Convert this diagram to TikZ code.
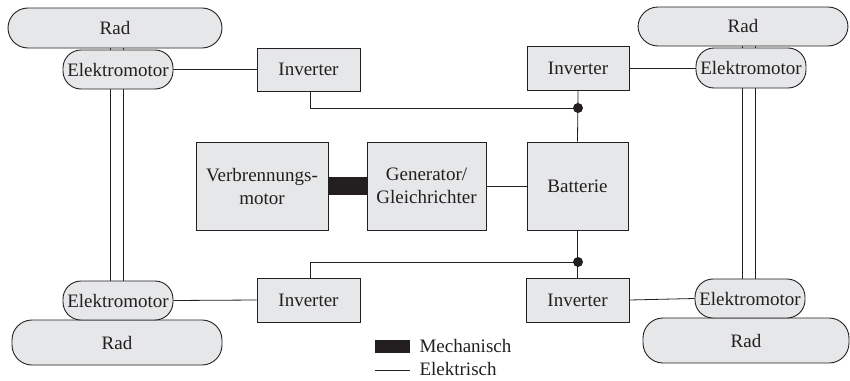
\documentclass[tikz,border=0pt]{standalone}
\usepackage{fontspec}
\setmainfont{Liberation Serif}
\usetikzlibrary{backgrounds}
\definecolor{boxfill}{HTML}{E6E7E8}
\definecolor{ink}{HTML}{231F20}
\begin{document}
\begin{tikzpicture}[x=1pt,y=-1pt,
  every node/.style={font=\fontsize{19}{23}\selectfont, text=ink},
  blockbox/.style={draw=ink, line width=0.9pt, fill=boxfill, inner sep=0pt, align=center},
  wheel/.style={blockbox, rounded corners=20pt},
  motorbox/.style={blockbox, rounded corners=18pt},
  wire/.style={draw=ink, line width=0.8pt},
  shaft/.style={draw=ink, line width=0.8pt},
  mech/.style={draw=ink, line width=18pt},
  jdot/.style={circle, fill=ink, inner sep=0pt, minimum size=10pt}]
\useasboundingbox (0,0) rectangle (850,380);

% wheels
\node[wheel, minimum width=214pt, minimum height=40pt] (radTL) at (115,28) {Rad};
\node[wheel, minimum width=210pt, minimum height=39pt] (radTR) at (743,26.5) {Rad};
\node[wheel, minimum width=210pt, minimum height=45pt] (radBL) at (117,342.5) {Rad};
\node[wheel, minimum width=206pt, minimum height=45pt] (radBR) at (746,340.5) {Rad};

% motors
\node[motorbox, minimum width=110pt, minimum height=39pt] (emTL) at (118,69.5) {Elektromotor};
\node[motorbox, minimum width=110pt, minimum height=40pt] (emTR) at (751,68) {Elektromotor};
\node[motorbox, minimum width=110pt, minimum height=39pt] (emBL) at (118,300.5) {Elektromotor};
\node[motorbox, minimum width=110pt, minimum height=39pt] (emBR) at (750,298.5) {Elektromotor};

% inverters
\node[blockbox, minimum width=103pt, minimum height=43pt] (invTL) at (308.5,69.5) {Inverter};
\node[blockbox, minimum width=102pt, minimum height=44pt] (invTR) at (578,68) {Inverter};
\node[blockbox, minimum width=103pt, minimum height=44pt] (invBL) at (308.5,300) {Inverter};
\node[blockbox, minimum width=103pt, minimum height=44pt] (invBR) at (577.5,300) {Inverter};

% center
\node[blockbox, minimum width=132pt, minimum height=88pt] (verb) at (262,186) {Verbrennungs-\\motor};
\node[blockbox, minimum width=119pt, minimum height=88pt] (gen) at (426.5,186) {Generator/\\Gleichrichter};
\node[blockbox, minimum width=101pt, minimum height=88pt] (batt) at (577.5,186) {Batterie};

% junctions
\node[jdot] (dotT) at (578,108) {};
\node[jdot] (dotB) at (578,262) {};

% legend
\node[fill=ink, minimum width=35pt, minimum height=13pt, inner sep=0pt] (legM) at (392.5,346.5) {};
\node[anchor=west] (legMt) at (416,346) {Mechanisch};
\coordinate (legEa) at (375,370);
\coordinate (legEb) at (410,370);
\node[anchor=west] (legEt) at (416,369) {Elektrisch};
\draw[wire] (legEa) -- (legEb);

\begin{scope}[on background layer]
  % shafts
  \draw[shaft] ([xshift=-8pt]emTL.center |- radTL.center) -- ([xshift=-8pt]emTL.center |- radBL.center);
  \draw[shaft] ([xshift=5pt]emTL.center |- radTL.center) -- ([xshift=5pt]emTL.center |- radBL.center);
  \draw[shaft] ([xshift=-9pt]emTR.center |- radTR.center) -- ([xshift=-9pt]emTR.center |- radBR.center);
  \draw[shaft] ([xshift=4pt]emTR.center |- radTR.center) -- ([xshift=4pt]emTR.center |- radBR.center);
  % electrical
  \draw[wire] (emTL.east) -- (invTL.west);
  \draw[wire] (invTR.east) -- (emTR.west);
  \draw[wire] (emBL.east) -- (invBL.west);
  \draw[wire] (invBR.east) -- (emBR.west);
  \draw[wire] ([xshift=2pt]invTL.south) -- ([xshift=2pt]invTL.south |- dotT.center) -- (dotT.center);
  \draw[wire] (invTR.south) -- (batt.north);
  \draw[wire] (batt.south) -- (invBR.north);
  \draw[wire] ([xshift=2pt]invBL.north) -- ([xshift=2pt]invBL.north |- dotB.center) -- (dotB.center);
  \draw[wire] (gen.east) -- (batt.west);
  % mechanical
  \draw[mech] (verb.east) -- (gen.west);
\end{scope}
\end{tikzpicture}
\end{document}
